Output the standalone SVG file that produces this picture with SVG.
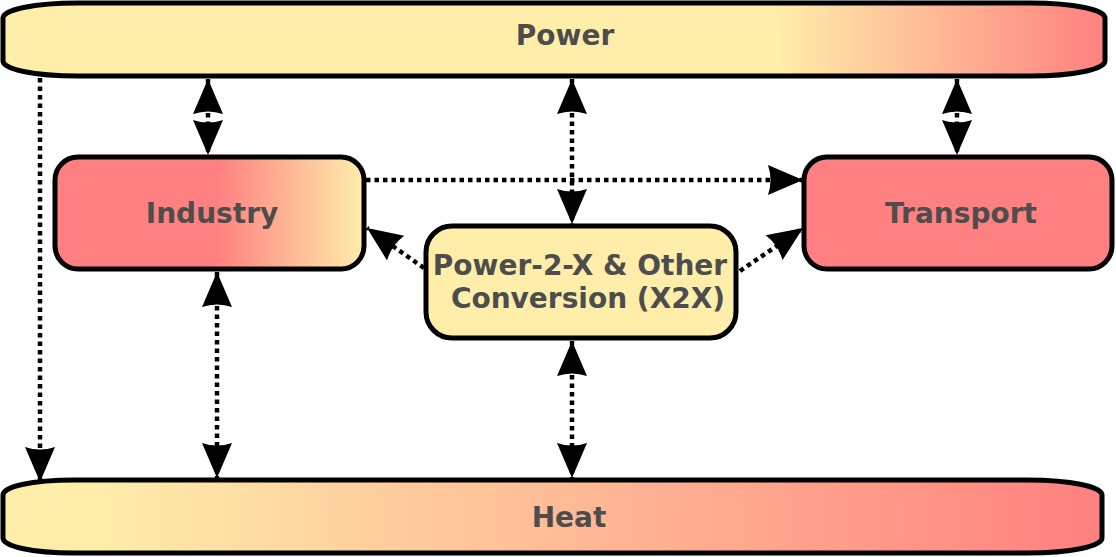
<svg xmlns="http://www.w3.org/2000/svg" width="1116" height="557" viewBox="0 0 1116 557">
<style>
.box{stroke:#000;stroke-width:5}
.lbl{font-family:"DejaVu Sans",Verdana,sans-serif;font-weight:bold;font-size:28px;fill:#4d4d4d;text-anchor:middle}
.con{fill:none;stroke:#000;stroke-width:4.5;stroke-dasharray:4.5 4}
</style>
<defs>
<linearGradient id="gPower" gradientUnits="userSpaceOnUse" x1="3" y1="0" x2="1105" y2="0">
<stop offset="0" stop-color="#ffeeaa"/><stop offset="0.7" stop-color="#ffeeaa"/><stop offset="1" stop-color="#ff8080"/>
</linearGradient>
<linearGradient id="gHeat" gradientUnits="userSpaceOnUse" x1="3" y1="0" x2="1102" y2="0">
<stop offset="0.08" stop-color="#ffeeaa"/><stop offset="1" stop-color="#ff8080"/>
</linearGradient>
<linearGradient id="gInd" gradientUnits="userSpaceOnUse" x1="55" y1="0" x2="364" y2="0">
<stop offset="0.52" stop-color="#ff8080"/><stop offset="1" stop-color="#ffeeaa"/>
</linearGradient>
<marker id="ah" markerUnits="userSpaceOnUse" markerWidth="40" markerHeight="40" viewBox="-30 -14 32 28" refX="0" refY="0" orient="auto-start-reverse">
<path d="M0,0 L-28,-12 Q-24,0 -28,12 Z" fill="#000"/>
</marker>
</defs>
<g id="power">
<path class="box" fill="url(#gPower)" d="M78,3 H1030 C1075,3 1105,10 1105,18 V61 C1105,69 1075,76 1030,76 H78 C33,76 3,69 3,61 V18 C3,10 33,3 78,3 Z"/>
<text class="lbl" x="565" y="45">Power</text>
</g>
<g id="heat">
<path class="box" fill="url(#gHeat)" d="M75,480 H1027 C1072,480 1102,487 1102,495 V538 C1102,546 1072,553 1027,553 H75 C30,553 3,546 3,538 V495 C3,487 30,480 75,480 Z"/>
<text class="lbl" x="569" y="527">Heat</text>
</g>
<g id="industry">
<rect class="box" fill="url(#gInd)" x="55" y="157" width="309" height="112" rx="23"/>
<text class="lbl" x="212" y="223">Industry</text>
</g>
<g id="transport">
<rect class="box" fill="#ff8080" x="804" y="157" width="308" height="112" rx="23"/>
<text class="lbl" x="961" y="223">Transport</text>
</g>
<g id="p2x">
<rect class="box" fill="#ffeeaa" x="426" y="226" width="310" height="112" rx="26"/>
<text class="lbl" x="580" y="275">Power-2-X &amp; Other</text>
<text class="lbl" x="588" y="308">Conversion (X2X)</text>
</g>
<g id="connectors">
<path class="con" d="M40,78 V482" marker-end="url(#ah)"/>
<path class="con" d="M208,79 V155" marker-start="url(#ah)" marker-end="url(#ah)"/>
<path class="con" d="M572,79 V224" marker-start="url(#ah)" marker-end="url(#ah)"/>
<path class="con" d="M957,79 V155" marker-start="url(#ah)" marker-end="url(#ah)"/>
<path class="con" d="M366,180 H803" marker-end="url(#ah)"/>
<path class="con" d="M424,268 L367,228" marker-end="url(#ah)"/>
<path class="con" d="M740,271 L803,228" marker-end="url(#ah)"/>
<path class="con" d="M217,272 V478" marker-start="url(#ah)" marker-end="url(#ah)"/>
<path class="con" d="M572,341 V478" marker-start="url(#ah)" marker-end="url(#ah)"/>
</g>
</svg>
